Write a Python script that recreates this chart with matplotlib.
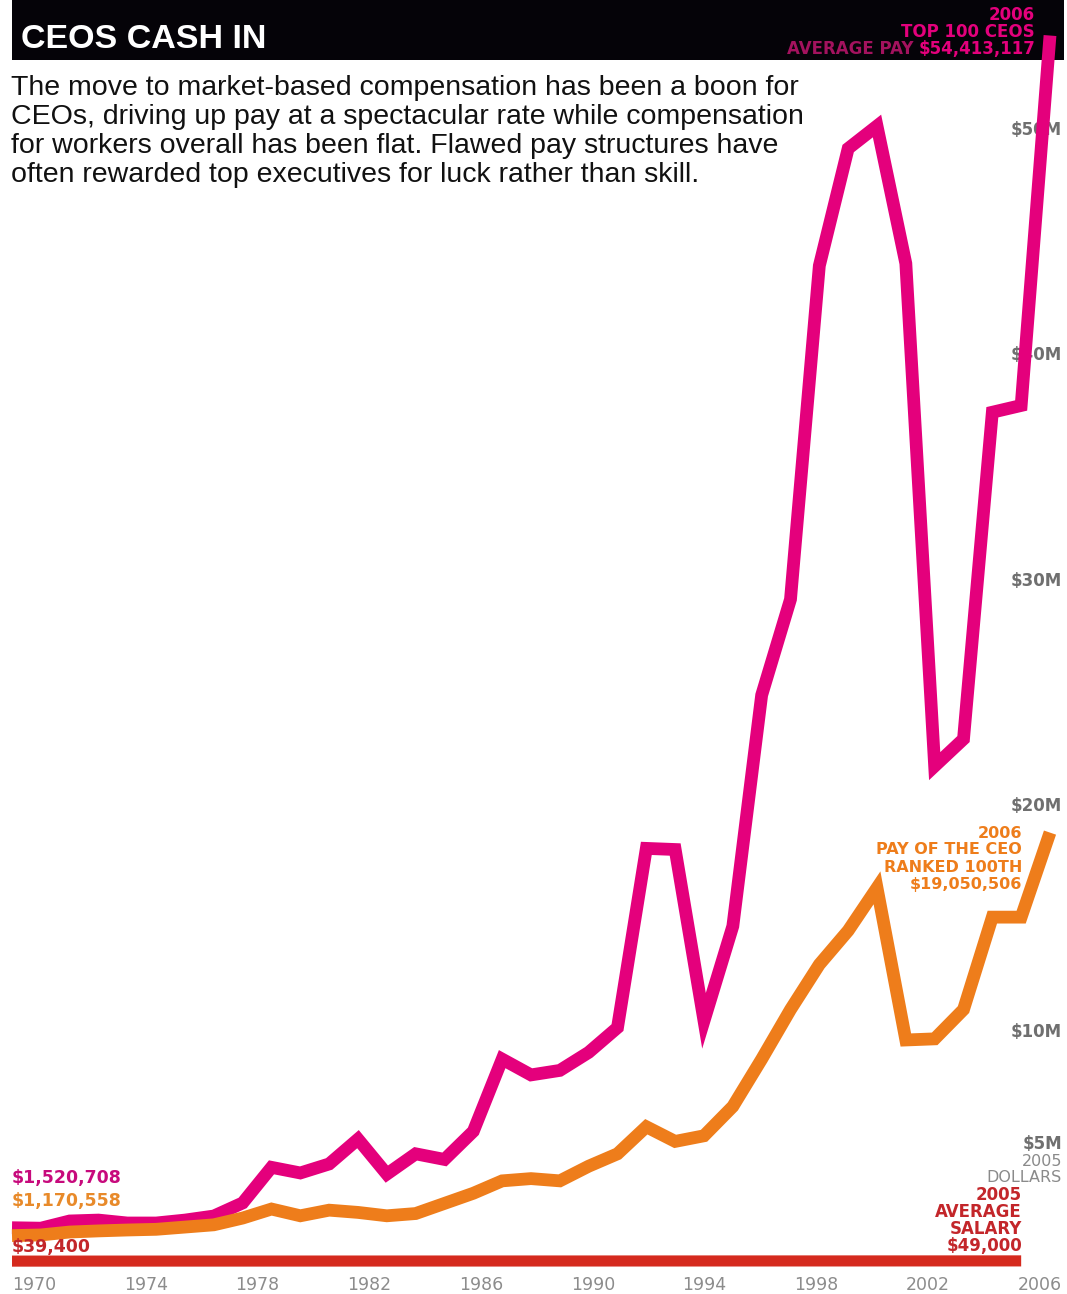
import matplotlib.pyplot as plt
from matplotlib.patches import Rectangle

W, H, DPI = 1067, 1294, 100

PINK = "#e4007c"
ORANGE = "#ee7d1b"
RED = "#d52a1e"
GREY = "#6f6f6f"

# values in millions of 2005 dollars
years = list(range(1970, 2007))
top100_avg = [1.520708, 1.50, 1.82, 1.86, 1.73, 1.73, 1.86, 2.04, 2.62, 4.20,
              3.95, 4.35, 5.45, 3.90, 4.80, 4.55, 5.80, 9.00, 8.30, 8.50,
              9.30, 10.40, 18.35, 18.30, 10.70, 14.90, 25.15, 29.40, 44.20, 49.40,
              50.40, 44.30, 22.00, 23.20, 37.70, 38.00, 54.413117]
rank100_pay = [1.170558, 1.20, 1.33, 1.38, 1.42, 1.45, 1.55, 1.65, 1.95, 2.35,
               2.05, 2.30, 2.20, 2.05, 2.15, 2.60, 3.05, 3.60, 3.70, 3.60,
               4.25, 4.80, 6.00, 5.35, 5.60, 6.90, 9.00, 11.20, 13.20, 14.70,
               16.60, 9.85, 9.90, 11.20, 15.30, 15.30, 19.050506]
salary_years = [1970, 2005]
avg_salary = [0.0394, 0.049]

y_ticks = [50, 40, 30, 20, 10, 5]
y_tick_labels = ["$50M", "$40M", "$30M", "$20M", "$10M", "$5M"]
x_tick_years = [1970, 1974, 1978, 1982, 1986, 1990, 1994, 1998, 2002, 2006]

subtitle = [
    "The move to market-based compensation has been a boon for",
    "CEOs, driving up pay at a spectacular rate while compensation",
    "for workers overall has been flat. Flawed pay structures have",
    "often rewarded top executives for luck rather than skill.",
]


def fx(px):
    return px / W


def fy(py):
    return 1 - py / H


fig = plt.figure(figsize=(W / DPI, H / DPI), dpi=DPI)
fig.patch.set_facecolor("white")

# plot area: 1970..2006 across x 12..1050 px, zero at y 1262 px, 22.54 px per $1M
y_top = 55
ax = fig.add_axes([fx(12), fy(1262), (1050 - 12) / W, 55 * 22.54 / H])
ax.set_xlim(1970, 2006)
ax.set_ylim(0, y_top)
ax.set_axis_off()
ax.patch.set_visible(False)

# header bar
fig.patches.append(Rectangle((fx(12), fy(60)), fx(1064) - fx(12), 60 / H,
                             transform=fig.transFigure, facecolor="#050308",
                             edgecolor="none", zorder=-1))

line_kw = dict(solid_capstyle="butt", solid_joinstyle="miter", clip_on=False)
ax.plot(salary_years, avg_salary, color=RED, lw=8, zorder=2, **line_kw)
ax.plot(years, top100_avg, color=PINK, lw=9.2, zorder=2, **line_kw)
ax.plot(years, rank100_pay, color=ORANGE, lw=9.2, zorder=2.1, **line_kw)

# value axis labels on the right, under the lines
for v, lab in zip(y_ticks, y_tick_labels):
    ax.annotate(lab, xy=(fx(1062), v), xycoords=("figure fraction", "data"),
                xytext=(0, 5), textcoords="offset pixels", ha="right", va="center",
                fontsize=12, fontweight="bold", color=GREY, family="DejaVu Sans",
                zorder=1, annotation_clip=False)
for i, s in enumerate(["2005", "DOLLARS"]):
    fig.text(fx(1062), fy(1161 + 16 * i), s, ha="right", va="center",
             fontsize=11.5, color="#8a8a8a", family="DejaVu Sans")

# year labels
for yr in x_tick_years:
    cx = 34 + (yr - 1970) / 36 * 1006
    fig.text(fx(cx), fy(1285), str(yr), ha="center", va="center",
             fontsize=12.5, color="#8c8c8c", family="DejaVu Sans")

# title and intro
fig.text(fx(21), fy(40), "CEOS CASH IN", ha="left", va="center", color="white",
         fontsize=24.5, fontweight="bold", family="Liberation Sans")
for i, s in enumerate(subtitle):
    fig.text(fx(11), fy(88 + 29 * i), s, ha="left", va="center", color="#111111",
             fontsize=20.5, family="Liberation Sans")

lab_kw = dict(fontsize=11.5, fontweight="bold", family="DejaVu Sans")

# top-right callout
top_kw = dict(lab_kw, fontsize=12)
fig.text(fx(1035), fy(15), "2006", ha="right", va="center", color=PINK, **top_kw)
fig.text(fx(1035), fy(32), "TOP 100 CEOS", ha="right", va="center", color=PINK, **top_kw)
amount = fig.text(fx(1035), fy(49), "$54,413,117", ha="right", va="center",
                  color=PINK, **top_kw)
renderer = fig.canvas.get_renderer()
bb = amount.get_window_extent(renderer)
fig.text(bb.x0 / W - fx(5), fy(49), "AVERAGE PAY", ha="right", va="center",
         color="#a3125e", **top_kw)

# ranked-100th callout
for i, s in enumerate(["2006", "PAY OF THE CEO", "RANKED 100TH", "$19,050,506"]):
    fig.text(fx(1022), fy(833 + 17 * i), s, ha="right", va="center",
             color=ORANGE, **lab_kw)

# average salary callout
for i, s in enumerate(["2005", "AVERAGE", "SALARY", "$49,000"]):
    fig.text(fx(1022), fy(1195 + 17 * i), s, ha="right", va="center",
             color="#c3262a", **dict(lab_kw, fontsize=12))

# 1970 starting values
left_kw = dict(fontsize=12.5, fontweight="bold", family="DejaVu Sans", ha="left", va="center")
fig.text(fx(12), fy(1178), "$1,520,708", color="#c70a7c", **left_kw)
fig.text(fx(12), fy(1201), "$1,170,558", color="#e88a2a", **left_kw)
fig.text(fx(12), fy(1247), "$39,400", color="#c3262a", **left_kw)

fig.savefig("out.png", dpi=DPI)
